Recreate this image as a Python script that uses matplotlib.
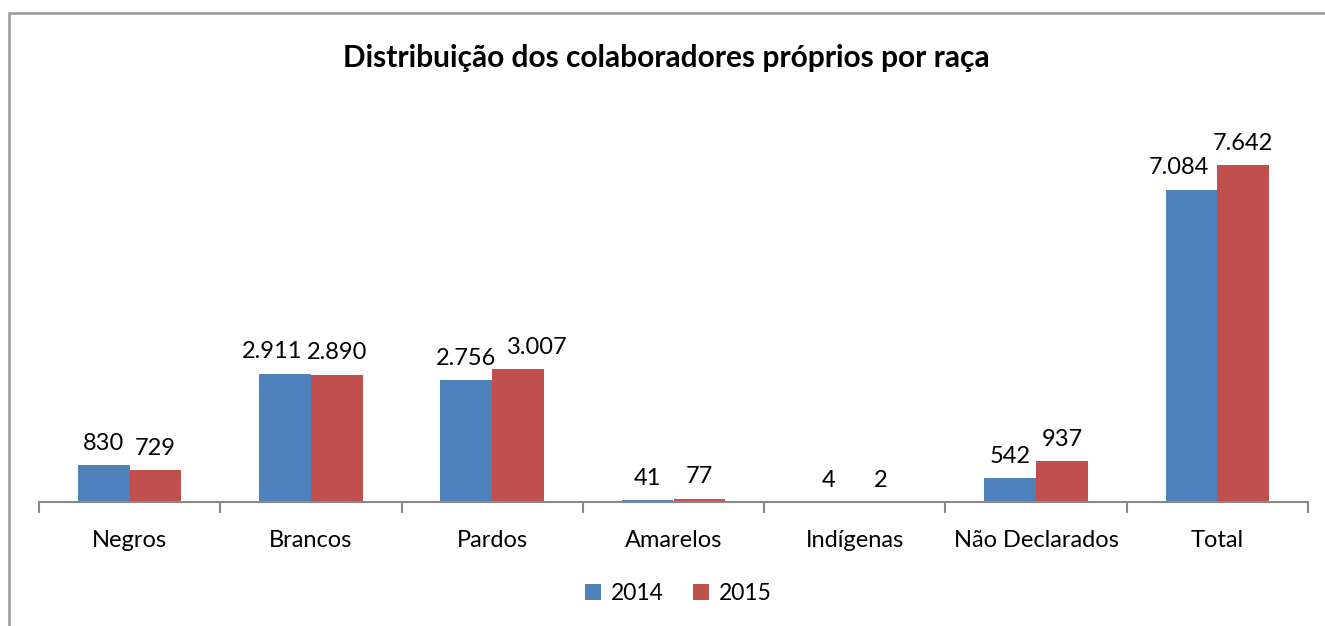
import matplotlib.pyplot as plt
import numpy as np
from matplotlib.patches import Rectangle

plt.rcParams['font.family'] = ['Lato', 'DejaVu Sans']

categorias = ['Negros', 'Brancos', 'Pardos', 'Amarelos', 'Indígenas', 'Não Declarados', 'Total']
valores_2014 = [830, 2911, 2756, 41, 4, 542, 7084]
valores_2015 = [729, 2890, 3007, 77, 2, 937, 7642]
anos = ['2014', '2015']

azul = '#4F81BD'
vermelho = '#C0504D'

# horizontal nudges (points) for labels that would collide
desloc_2014 = [0, -9, 0, 0, 0, 0, -9]
desloc_2015 = [0, 0, 14, 0, 0, 0, 0]


def fmt(v):
    return f'{v:,}'.replace(',', '.')


fig = plt.figure(figsize=(13.25, 6.26), dpi=100)
ax = fig.add_axes([39 / 1325, (626 - 502) / 626, (1308 - 39) / 1325, 397 / 626])

x = np.arange(len(categorias))
w = 1 / 3.5
b1 = ax.bar(x - w / 2, valores_2014, w, color=azul, label=anos[0])
b2 = ax.bar(x + w / 2, valores_2015, w, color=vermelho, label=anos[1])

for barras, vals, desl in [(b1, valores_2014, desloc_2014), (b2, valores_2015, desloc_2015)]:
    for r, v, d in zip(barras, vals, desl):
        ax.annotate(fmt(v), (r.get_x() + r.get_width() / 2, r.get_height()),
                    xytext=(d, 8), textcoords='offset points',
                    ha='center', va='bottom', fontsize=17)

ax.set_xlim(-0.5, len(categorias) - 0.5)
ax.set_ylim(0, 9000)
ax.set_yticks([])
for s in ['top', 'right', 'left']:
    ax.spines[s].set_visible(False)
ax.spines['bottom'].set_color('#888888')
ax.spines['bottom'].set_linewidth(1.5)

# ticks between categories, labels centered
ax.set_xticks(np.arange(-0.5, len(categorias)), minor=False)
ax.set_xticklabels([])
ax.set_xticks(x, minor=True)
ax.set_xticklabels(categorias, minor=True, fontsize=17)
ax.tick_params(axis='x', which='major', length=8, width=1.5, color='#888888', direction='out')
ax.tick_params(axis='x', which='minor', length=0, pad=20)

fig.text(0.503, 0.908, 'Distribuição dos colaboradores próprios por raça',
         ha='center', va='center', fontsize=21.5, fontweight='bold')

fig.legend(loc='center', bbox_to_anchor=(0.512, 0.052), ncol=2, frameon=False,
           fontsize=16.5, handlelength=0.7, handleheight=0.7, handletextpad=0.4,
           columnspacing=1.3)

# chart border
fig.patches.append(Rectangle((9 / 1325, -0.05), 1.2, (626 - 13) / 626 + 0.05,
                             transform=fig.transFigure, fill=False,
                             edgecolor='#999999', linewidth=1.8))

plt.savefig('out.png', dpi=100)
plt.close()
